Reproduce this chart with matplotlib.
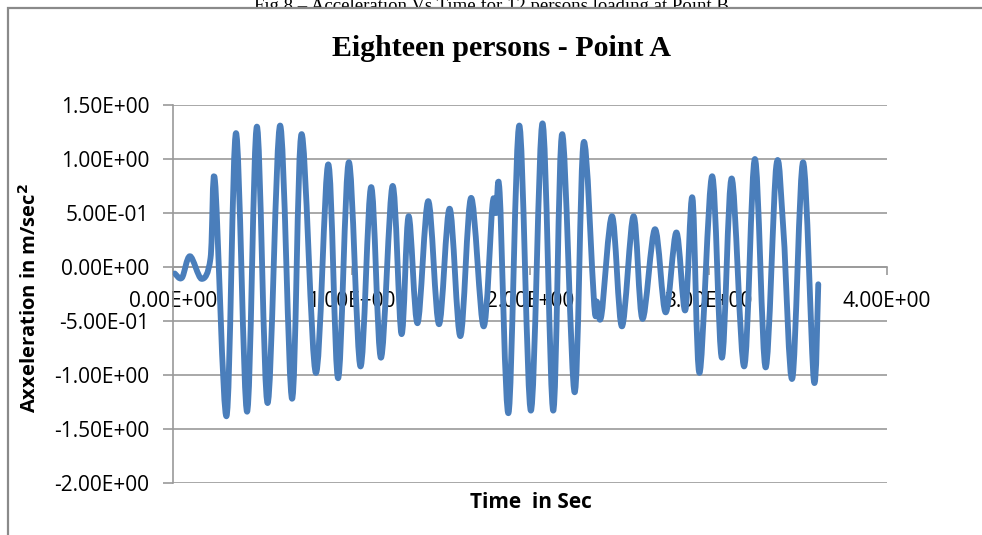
import numpy as np
import matplotlib.pyplot as plt
from matplotlib.path import Path
from matplotlib.patches import PathPatch, Rectangle

# peak / trough readings of the acceleration record (time in s, acc in m/s^2)
time_s = [0.01, 0.05, 0.095, 0.16, 0.21, 0.235, 0.30, 0.353, 0.415, 0.47,
          0.53, 0.60, 0.667, 0.72, 0.80, 0.87, 0.925, 0.985, 1.05, 1.11,
          1.165, 1.23, 1.28, 1.32, 1.37, 1.43, 1.49, 1.55, 1.61, 1.67,
          1.74, 1.79, 1.81, 1.83, 1.88, 1.94, 2.005, 2.07, 2.13, 2.18,
          2.25, 2.30, 2.36, 2.375, 2.40, 2.46, 2.515, 2.58, 2.63, 2.70,
          2.76, 2.82, 2.87, 2.91, 2.95, 3.02, 3.075, 3.13, 3.20, 3.26,
          3.32, 3.38, 3.42, 3.47, 3.53, 3.59, 3.615]
accel = [-0.06, -0.10, 0.10, -0.11, 0.08, 0.80, -1.38, 1.24, -1.34, 1.30,
         -1.26, 1.31, -1.22, 1.23, -0.98, 0.95, -1.03, 0.97, -0.92, 0.74,
         -0.84, 0.75, -0.62, 0.47, -0.52, 0.61, -0.53, 0.54, -0.64, 0.64,
         -0.55, 0.58, 0.50, 0.69, -1.35, 1.31, -1.33, 1.33, -1.33, 1.23,
         -1.16, 1.15, -0.36, -0.32, -0.45, 0.47, -0.55, 0.47, -0.48, 0.35,
         -0.42, 0.32, -0.40, 0.64, -0.98, 0.84, -0.84, 0.82, -0.92, 1.00,
         -0.93, 0.94, 0.33, -1.03, 0.97, -1.05, -0.16]

y_ticks = [-2.0, -1.5, -1.0, -0.5, 0.0, 0.5, 1.0, 1.5]
x_ticks = [0, 1, 2, 3, 4]

LINE = '#4a7ebb'
GRID = '#9a9a9a'
TICKFONT = 'Open Sans'


def smoothed(x, y):
    # Excel style "smoothed line": cubic bezier through every reading
    pts = np.column_stack([x, y])
    n = len(pts)
    verts = [pts[0]]
    codes = [Path.MOVETO]
    for i in range(n - 1):
        p0 = pts[i - 1] if i > 0 else pts[i]
        p1 = pts[i]
        p2 = pts[i + 1]
        p3 = pts[i + 2] if i + 2 < n else pts[i + 1]
        verts += [p1 + (p2 - p0) / 6, p2 - (p3 - p1) / 6, p2]
        codes += [Path.CURVE4] * 3
    return Path(verts, codes)


W, H = 982, 535
fig = plt.figure(figsize=(W / 100, H / 100), dpi=100)

# caption of the page above the chart, mostly hidden behind the chart box
fig.text(0.5, 1 - 11 / H, 'Fig 8 \u2013 Acceleration Vs Time for 12 persons loading at Point B',
         ha='center', va='baseline', fontsize=13.5, family='Liberation Serif', zorder=-2)
fig.patches.append(Rectangle((8 / W, -0.1), 1.2, 1.1 - 8 / H, transform=fig.transFigure,
                             facecolor='white', edgecolor='#8a8a8a', lw=1.6, zorder=-1))

ax = fig.add_axes([173 / W, 1 - 483 / H, (887 - 173) / W, (483 - 105) / H])
ax.set_facecolor('none')
ax.set_xlim(0, 4)
ax.set_ylim(-2, 1.5)
ax.set_yticks(y_ticks)
ax.set_xticks(x_ticks)
ax.set_yticklabels(['{:.2E}'.format(v) for v in y_ticks])
ax.set_xticklabels(['{:.2E}'.format(v) for v in x_ticks])
ax.grid(axis='y', color=GRID, lw=1.2)
ax.set_axisbelow(True)

for s in ['top', 'right']:
    ax.spines[s].set_visible(False)
ax.spines['bottom'].set_position(('data', 0))
ax.spines['bottom'].set_color(GRID)
ax.spines['left'].set_color(GRID)
ax.spines['bottom'].set_linewidth(1.2)
ax.spines['left'].set_linewidth(1.2)

ax.tick_params(axis='y', direction='out', length=7, width=1.2, color=GRID, pad=10)
ax.tick_params(axis='x', direction='out', length=6, width=1.2, color=GRID, pad=11)
for lab in ax.get_xticklabels() + ax.get_yticklabels():
    lab.set_family(TICKFONT)
    lab.set_fontsize(15)

ax.add_patch(PathPatch(smoothed(time_s, accel), fill=False, edgecolor=LINE,
                       lw=4.2, capstyle='round', joinstyle='round', zorder=3))

fig.text(501 / W, 1 - 48 / H, 'Eighteen persons - Point A', ha='center', va='center',
         fontsize=21.5, fontweight='bold', family='Liberation Serif')
fig.text(30 / W, 1 - 298 / H, 'Axxeleration in m/sec$^\\mathbf{2}$', rotation=90,
         ha='center', va='center', fontsize=14.5, fontweight='bold', family=TICKFONT)
fig.text(531 / W, 1 - 503 / H, 'Time  in Sec', ha='center', va='center',
         fontsize=15, fontweight='bold', family=TICKFONT)

fig.savefig('out.png', dpi=100)
